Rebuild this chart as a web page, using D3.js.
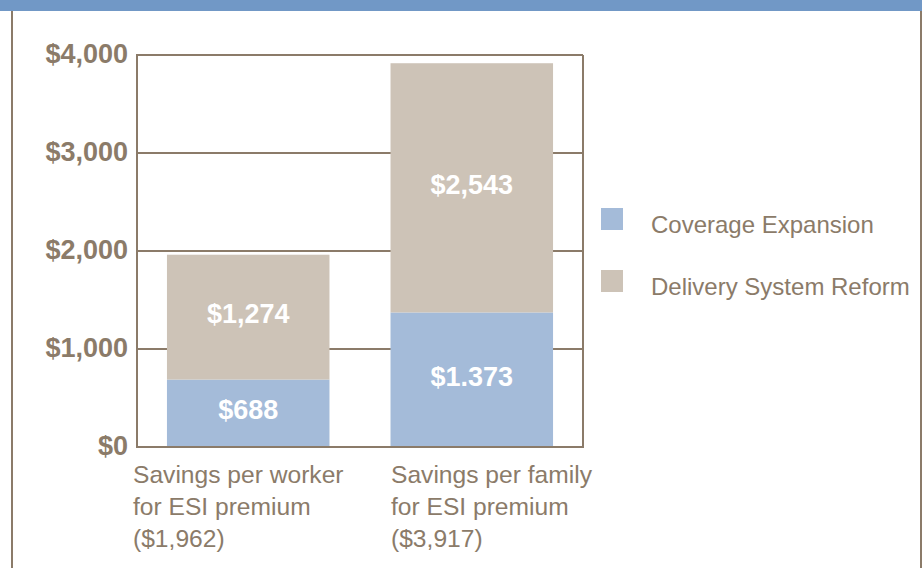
<!DOCTYPE html>
<html>
<head>
<meta charset="utf-8">
<script src="https://cdn.jsdelivr.net/npm/d3@7"></script>
<style>
  body { margin: 0; background: #fff; }
  svg text { font-family: "Liberation Sans", Arial, sans-serif; }
</style>
</head>
<body>
<div id="chart"></div>
<script>
// chart values
const categories = ["worker", "family"];
const categoryLabels = [
  ["Savings per worker", "for ESI premium", "($1,962)"],
  ["Savings per family", "for ESI premium", "($3,917)"]
];
const seriesNames = ["Coverage Expansion", "Delivery System Reform"];
const coverage = [688, 1373];
const delivery = [1274, 2543];
const coverageLabels = ["$688", "$1.373"];
const deliveryLabels = ["$1,274", "$2,543"];
const yTicks = [0, 1000, 2000, 3000, 4000];

const W = 922, H = 568;
const brown = "#8b7b69";
const colors = ["#a4bbd9", "#cdc3b7"];

// plot box
let margin = {top: 55, right: 339, bottom: 121, left: 137},
    width = W - margin.left - margin.right,
    height = H - margin.top - margin.bottom;

let svg = d3.select("#chart")
    .append("svg")
    .attr("width", W)
    .attr("height", H);

// top band and outer frame
svg.append("rect")
    .attr("x", 0).attr("y", 0)
    .attr("width", W).attr("height", 11)
    .attr("fill", "#7198c6");
svg.append("line")
    .attr("x1", 12).attr("x2", 12)
    .attr("y1", 11).attr("y2", H)
    .attr("stroke", brown).attr("stroke-width", 2);
svg.append("line")
    .attr("x1", 921).attr("x2", 921)
    .attr("y1", 11).attr("y2", H)
    .attr("stroke", brown).attr("stroke-width", 2);

let g = svg.append("g")
    .attr("transform", "translate(" + margin.left + "," + margin.top + ")");

let y = d3.scaleLinear()
    .domain([0, 4000])
    .range([height, 0]);

let x = d3.scaleBand()
    .domain(categories)
    .range([0, width])
    .paddingInner(0.273)
    .paddingOuter(0.134);

// category label anchors (left aligned text)
let xLabel = d3.scalePoint()
    .domain(categories)
    .range([-4, 254]);

// gridlines (incl. top border)
g.append("g")
    .selectAll("line")
    .data(yTicks.slice(1))
    .enter()
    .append("line")
    .attr("x1", 0)
    .attr("x2", width)
    .attr("y1", d => y(d))
    .attr("y2", d => y(d))
    .attr("stroke", brown)
    .attr("stroke-width", 2);

// stacked bars
let stackData = categories.map((c, i) => ({cat: c, coverage: coverage[i], delivery: delivery[i]}));
let stack = d3.stack().keys(["coverage", "delivery"])(stackData);

g.append("g")
    .selectAll("g")
    .data(stack)
    .enter()
    .append("g")
    .attr("fill", (d, i) => colors[i])
    .selectAll("rect")
    .data(d => d)
    .enter()
    .append("rect")
    .attr("x", d => x(d.data.cat))
    .attr("y", d => y(d[1]))
    .attr("width", x.bandwidth())
    .attr("height", d => y(d[0]) - y(d[1]));

// value labels inside segments
let labelSets = [coverageLabels, deliveryLabels];
stack.forEach((s, k) => {
  g.append("g")
    .selectAll("text")
    .data(s)
    .enter()
    .append("text")
    .attr("x", d => x(d.data.cat) + x.bandwidth() / 2)
    .attr("y", d => (y(d[0]) + y(d[1])) / 2 + 6)
    .attr("text-anchor", "middle")
    .attr("fill", "#fff")
    .attr("font-weight", "bold")
    .attr("font-size", 27)
    .text((d, i) => labelSets[k][i]);
});

// right border + axes
g.append("line")
    .attr("x1", width).attr("x2", width)
    .attr("y1", 0).attr("y2", height)
    .attr("stroke", brown).attr("stroke-width", 2);
g.append("line")
    .attr("x1", 0).attr("x2", 0)
    .attr("y1", -1).attr("y2", height + 1)
    .attr("stroke", brown).attr("stroke-width", 2);
g.append("line")
    .attr("x1", 0).attr("x2", width + 1)
    .attr("y1", height).attr("y2", height)
    .attr("stroke", brown).attr("stroke-width", 2);

// y tick labels
g.append("g")
    .selectAll("text")
    .data(yTicks)
    .enter()
    .append("text")
    .attr("x", -9)
    .attr("y", d => y(d) + 8)
    .attr("text-anchor", "end")
    .attr("fill", brown)
    .attr("font-weight", "bold")
    .attr("font-size", 27)
    .text(d => d3.format("$,")(d));

// category labels
categories.forEach((c, i) => {
  let t = g.append("text")
      .attr("fill", brown)
      .attr("font-size", 24.6);
  categoryLabels[i].forEach((line, j) => {
    t.append("tspan")
      .attr("x", xLabel(c))
      .attr("y", height + 36 + j * 32)
      .text(line);
  });
});

// legend
let legend = svg.append("g")
    .attr("transform", "translate(601,208)");
let item = legend.selectAll("g")
    .data(seriesNames)
    .enter()
    .append("g")
    .attr("transform", (d, i) => "translate(0," + i * 62 + ")");
item.append("rect")
    .attr("width", 22)
    .attr("height", 22)
    .attr("fill", (d, i) => colors[i]);
item.append("text")
    .attr("x", 50)
    .attr("y", 25)
    .attr("fill", brown)
    .attr("font-size", 24)
    .text(d => d);
</script>
</body>
</html>
